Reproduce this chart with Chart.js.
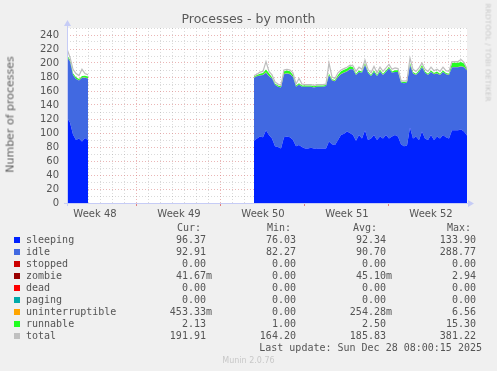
<!DOCTYPE html>
<html>
<head>
<meta charset="utf-8">
<script src="https://cdn.jsdelivr.net/npm/chart.js@4.4.1/dist/chart.umd.min.js"></script>
<style>
  body { margin: 0; background: #f0f0f0; width: 497px; height: 371px; overflow: hidden; position: relative; }
  #c { position: absolute; left: 0; top: 0; }
  .t { position: absolute; white-space: pre; color: #555; }
  .mono { font-family: "DejaVu Sans Mono", monospace; font-size: 10px; line-height: 12px; }
  .sq { position: absolute; width: 6px; height: 6px; }
</style>
</head>
<body>
<canvas id="c" width="497" height="371"></canvas>
<div id="overlay"></div>
<script>
// sample times in days since Mon Nov 24 (week 48); 6 hour steps
const seg1Start = 1.1667, seg2Start = 16.75, step = 0.25;
const seg1Count = 8, seg2Count = 72;

const sleeping = [122,115,98,90,92,88,93,90, null,
  89,92,95,94,104,97,92,81,80,78,94,95,94,90,81,83,80,78,78,79,78,78,78,78,
  78,88,84,83,90,97,99,102,100,97,89,97,92,104,90,92,97,90,95,92,97,92,95,97,
  95,84,81,82,108,92,95,90,102,92,90,97,90,95,92,97,94,92,104,104,104,105,102,96.4];
const idle = [87,87,85,87,83,91,86,88, null,
  90,89,87,89,82,84,86,88,86,87,90,90,90,90,85,86,86,88,88,87,87,88,88,88,
  89,94,91,91,90,87,87,86,91,94,94,90,94,93,96,89,90,91,93,91,90,100,91,90,
  92,88,90,90,89,93,88,97,92,94,93,90,94,90,91,90,90,91,90,90,90,90,92,92.9];
const stopped = [0,0,0,0,0,0,0,0, null].concat(new Array(seg2Count).fill(0));
const zombie = [0.1,0.1,0,0,0,0,0,0, null,
  0,0,0,0,0.1,0,0,0,0,0,0,0,0,0,0,0,0,0,0,0,0,0,0,0,
  0,0.1,0,0,0,0,0,0,0.1,0,0,0,0,0.1,0,0,0,0,0,0,0,0,0,0,
  0,0,0,0,0.1,0,0,0,0,0,0,0,0,0,0,0,0,0,0,0,0,0,0,0.04];
const dead = stopped.slice();
const paging = stopped.slice();
const uninterruptible = [0.5,0.4,0.3,0.3,0.3,0.4,0.3,0.3, null,
  0.3,0.3,0.2,0.3,0.6,0.3,0.2,0.2,0.2,0.2,0.3,0.3,0.3,0.2,0.2,0.4,0.2,0.2,0.2,0.2,0.2,0.2,0.2,0.2,
  0.2,0.5,0.3,0.2,0.3,0.3,0.3,0.3,0.4,0.3,0.2,0.3,0.2,0.6,0.2,0.2,0.3,0.2,0.3,0.2,0.3,0.4,0.2,0.2,
  0.2,0.2,0.2,0.2,0.8,0.3,0.2,0.2,0.5,0.2,0.2,0.3,0.2,0.2,0.2,0.3,0.2,0.2,0.4,0.4,0.4,0.4,0.3,0.45];
const runnable = [2,2,2,2.5,2,2,2.5,2.5, null,
  1.5,1.5,2.5,2.5,4,4,1.5,1.5,1.5,1.5,4,4,4,2.5,1.5,1.5,1.5,1.5,1.5,1.5,1.5,1.5,1.5,1.5,
  1.5,2,1.5,1.5,2.5,4,4,4,4,2.5,1.5,2,1.5,2,1.5,1.5,2,1.5,2,1.5,2,2,1.5,2.5,
  2.5,1.5,1.5,1.5,2,2,1.5,2,2.5,1.5,1.5,2,1.5,2.5,1.5,2,1.5,1.5,6,6,6,6,5,2.13];
const total = [220,208,191,185,182,191,185,183, null,
  182,184,187,188,202,188,183,173,170,168,190,191,190,186,170,178,170,169,169,169,168,169,169,169,
  170,200,180,178,186,190,192,194,197,196,188,194,191,204,191,186,195,186,194,188,193,198,191,193,
  192,175,174,175,207,191,188,193,200,191,188,194,189,191,188,194,189,188,202,202,202,205,201,191.91];

const weekLabels = ['Week 48', 'Week 49', 'Week 50', 'Week 51', 'Week 52'];
const weekMids = [3.5, 10.5, 17.5, 24.5, 31.5];

const seriesNames = ['sleeping','idle','stopped','zombie','dead','paging','uninterruptible','runnable','total'];
const seriesColors = ['#0022ff','#4169e1','#cc0000','#990000','#ff0000','#00aaaa','#ffa500','#22ff22','#c0c0c0'];
const curVals = ['96.37 ','92.91 ','0.00 ','41.67m','0.00 ','0.00 ','453.33m','2.13 ','191.91 '];
const minVals = ['76.03 ','82.27 ','0.00 ','0.00 ','0.00 ','0.00 ','0.00 ','1.00 ','164.20 '];
const avgVals = ['92.34 ','90.70 ','0.00 ','45.10m','0.00 ','0.00 ','254.28m','2.50 ','185.83 '];
const maxVals = ['133.90 ','288.77 ','0.00 ','2.94 ','0.00 ','0.00 ','6.56 ','15.30 ','381.22 '];

// build x values
const times = [];
for (let i = 0; i < seg1Count; i++) times.push(seg1Start + i * step);
times.push(10);
for (let i = 0; i < seg2Count; i++) times.push(seg2Start + i * step);

function pts(arr) {
  return arr.map((v, i) => ({ x: times[i], y: v }));
}

const stackSeries = [sleeping, idle, stopped, zombie, dead, paging, uninterruptible, runnable];
const datasets = stackSeries.map((arr, i) => ({
  label: seriesNames[i],
  data: pts(arr),
  backgroundColor: seriesColors[i],
  borderWidth: 0,
  pointRadius: 0,
  fill: i === 0 ? 'origin' : '-1',
  stack: 'procs',
  spanGaps: false
}));
datasets.push({
  label: 'total',
  data: pts(total),
  borderColor: '#bdbdbd',
  borderWidth: 1.2,
  pointRadius: 0,
  fill: false,
  stack: 'tot',
  spanGaps: false,
  order: -1
});

const xMin = 1.1667, xMax = 34.5;
const dayTicks = [];
for (let d = 2; d <= 34; d++) dayTicks.push(d);

const axisPlugin = {
  id: 'axisPlugin',
  beforeDraw(chart) {
    const a = chart.chartArea, ctx = chart.ctx;
    ctx.save();
    ctx.fillStyle = '#ffffff';
    ctx.fillRect(a.left, a.top, a.right - a.left, a.bottom - a.top);
    ctx.restore();
  },
  afterDraw(chart) {
    const a = chart.chartArea, ctx = chart.ctx;
    ctx.save();
    ctx.strokeStyle = '#c6ccf6';
    ctx.fillStyle = '#c6ccf6';
    ctx.lineWidth = 1;
    ctx.beginPath();
    ctx.moveTo(a.left - 3, a.bottom + 0.5);
    ctx.lineTo(a.right + 3, a.bottom + 0.5);
    ctx.moveTo(a.left + 0.5, a.bottom + 3);
    ctx.lineTo(a.left + 0.5, a.top - 2);
    ctx.stroke();
    ctx.beginPath();
    ctx.moveTo(a.right + 1, a.bottom - 3);
    ctx.lineTo(a.right + 7, a.bottom + 0.5);
    ctx.lineTo(a.right + 1, a.bottom + 4);
    ctx.fill();
    ctx.beginPath();
    ctx.moveTo(a.left - 3, a.top - 2);
    ctx.lineTo(a.left + 0.5, a.top - 8);
    ctx.lineTo(a.left + 4, a.top - 2);
    ctx.fill();
    ctx.restore();
  }
};

new Chart(document.getElementById('c'), {
  type: 'line',
  data: { datasets: datasets },
  options: {
    responsive: false,
    animation: false,
    layout: { padding: { left: 0, top: 28, right: 30, bottom: 148 } },
    plugins: { legend: { display: false }, tooltip: { enabled: false } },
    scales: {
      x: {
        type: 'linear', min: xMin, max: xMax, z: 1,
        afterBuildTicks: s => { s.ticks = dayTicks.map(v => ({ value: v })); },
        afterFit: s => { s.height = 0; },
        ticks: { display: false },
        grid: {
          color: c => (c.tick && c.tick.value % 7 === 0) ? 'rgba(215,110,110,0.5)' : 'rgba(150,150,150,0.35)',
          tickColor: c => (c.tick && c.tick.value % 7 === 0) ? 'rgba(220,100,100,0.8)' : 'rgba(0,0,0,0)',
          tickLength: 3,
          lineWidth: 1
        },
        border: { display: false, dash: [1, 2] }
      },
      x2: {
        type: 'linear', min: xMin, max: xMax, position: 'bottom',
        afterBuildTicks: s => { s.ticks = weekMids.map(v => ({ value: v })); },
        afterFit: s => { s.height = 20; },
        ticks: {
          autoSkip: false, maxRotation: 0, padding: 5,
          color: '#555', font: { family: 'DejaVu Sans', size: 10 },
          callback: (v) => weekLabels[weekMids.indexOf(v)] || ''
        },
        grid: { display: false, drawTicks: false },
        border: { display: false }
      },
      y: {
        stacked: true, min: 0, max: 250, z: 1,
        afterFit: s => { s.width = 67; },
        ticks: {
          stepSize: 10, padding: 8, autoSkip: false,
          color: '#555', font: { family: 'DejaVu Sans', size: 10 },
          callback: v => (v % 20 === 0 && v <= 240) ? String(v) : ''
        },
        grid: {
          drawTicks: false,
          color: c => (c.tick && c.tick.value % 20 === 0) ? 'rgba(215,110,110,0.5)' : 'rgba(150,150,150,0.35)',
          lineWidth: 1
        },
        border: { display: false, dash: [1, 2] }
      }
    }
  },
  plugins: [axisPlugin]
});

// text overlay: title, axis title, legend table
const ov = document.getElementById('overlay');
function addText(txt, css, cls) {
  const d = document.createElement('div');
  d.className = 't ' + (cls || '');
  d.textContent = txt;
  d.setAttribute('style', css);
  ov.appendChild(d);
  return d;
}
addText('Processes - by month', 'left:0;width:497px;text-align:center;top:11px;font-family:"DejaVu Sans";font-size:12.5px;color:#5a5a5a;');
addText('Number of processes', 'left:-50px;top:108px;width:120px;text-align:center;font-family:"DejaVu Sans";font-size:11px;font-weight:normal;transform:rotate(-90deg);color:#5f5f5f;');
addText('RRDTOOL / TOBI OETIKER', 'left:440px;top:47px;width:96px;text-align:center;font-family:"DejaVu Sans";font-size:7.3px;letter-spacing:0.2px;transform:rotate(90deg);color:#c8c8c8;');
addText('Munin 2.0.76', 'left:0;width:497px;text-align:center;top:356px;font-family:"DejaVu Sans";font-size:8px;color:#c8c8c8;');

const rowTop0 = 234, rowStep = 11.95;
addText('Cur:', 'left:177px;top:' + (rowTop0 - rowStep) + 'px;', 'mono');
addText('Min:', 'left:267px;top:' + (rowTop0 - rowStep) + 'px;', 'mono');
addText('Avg:', 'left:353px;top:' + (rowTop0 - rowStep) + 'px;', 'mono');
addText('Max:', 'left:447px;top:' + (rowTop0 - rowStep) + 'px;', 'mono');
const colRights = [212, 302, 392, 482];
seriesNames.forEach((name, i) => {
  const top = rowTop0 + i * rowStep;
  const sq = document.createElement('div');
  sq.className = 'sq';
  sq.style.left = '14px';
  sq.style.top = (top + 3) + 'px';
  sq.style.background = seriesColors[i];
  ov.appendChild(sq);
  addText(name, 'left:26px;top:' + top + 'px;', 'mono');
  [curVals, minVals, avgVals, maxVals].forEach((vals, k) => {
    addText(vals[i], 'right:' + (497 - colRights[k]) + 'px;top:' + top + 'px;text-align:right;', 'mono');
  });
});
addText('Last update: Sun Dec 28 08:00:15 2025', 'right:' + (497 - 482) + 'px;top:' + (rowTop0 + 9 * rowStep) + 'px;', 'mono');
</script>
</body>
</html>
